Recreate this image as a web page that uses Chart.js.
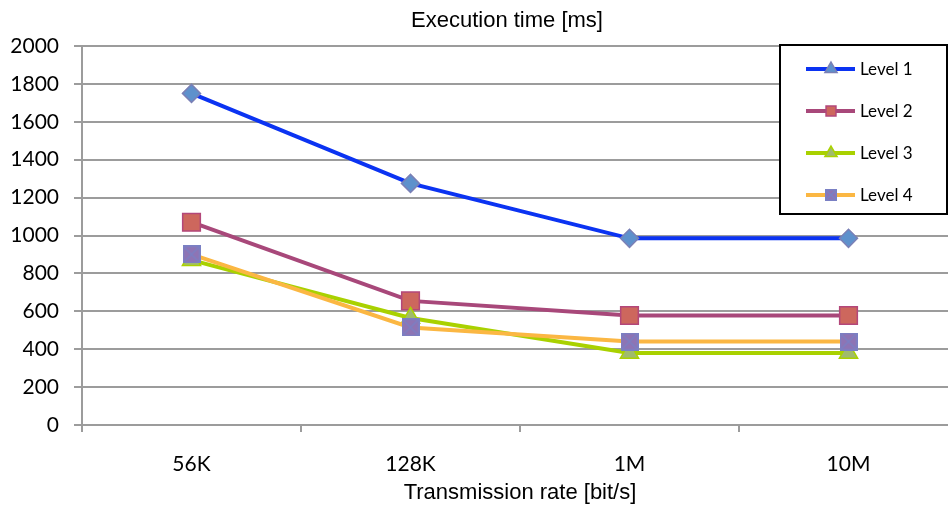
<!DOCTYPE html>
<html>
<head>
<meta charset="utf-8">
<script src="https://cdn.jsdelivr.net/npm/chart.js@4.4.1/dist/chart.umd.min.js"></script>
<style>
  html, body { margin: 0; padding: 0; background: #fff; overflow: hidden; }
  #wrap { width: 948px; height: 507px; overflow: hidden; }
</style>
</head>
<body>
<div id="wrap"><canvas id="chart" width="972" height="507"></canvas></div>
<script>
// values
var rates = ["56K", "128K", "1M", "10M"];
var level1 = [1750, 1275, 985, 985];
var level2 = [1070, 655, 578, 578];
var level3 = [870, 565, 380, 380];
var level4 = [900, 515, 440, 440];
var yTicks = [0, 200, 400, 600, 800, 1000, 1200, 1400, 1600, 1800, 2000];

// square with a cross, used as the Level 4 marker
function crossBox(size) {
  var c = document.createElement("canvas");
  c.width = size; c.height = size;
  var g = c.getContext("2d");
  g.fillStyle = "#8E74B4";
  g.fillRect(0, 0, size, size);
  g.strokeStyle = "#7A80C4";
  g.lineWidth = 1.5;
  g.strokeRect(0.75, 0.75, size - 1.5, size - 1.5);
  g.beginPath();
  g.moveTo(1, 1); g.lineTo(size - 1, size - 1);
  g.moveTo(size - 1, 1); g.lineTo(1, size - 1);
  g.stroke();
  return c;
}
var box18 = crossBox(18);
var box12 = crossBox(12);

var series = [
  {label: "Level 1", data: level1, line: "#0B33F2", fill: "#5E91CC", edge: "#7A80B6", style: "rectRot", r: 9, legendStyle: "triangle"},
  {label: "Level 2", data: level2, line: "#A8487A", fill: "#CD675D", edge: "#B3477A", style: "rect", r: 12.5, legendStyle: "rect"},
  {label: "Level 3", data: level3, line: "#A9D100", fill: "#A0BB6C", edge: "#AAD200", style: "triangle", r: 10.5, legendStyle: "triangle"},
  {label: "Level 4", data: level4, line: "#FBB743", fill: "#8E74B4", edge: "#7A80C4", style: box18, r: 9, legendStyle: box12}
];

var extras = {
  id: "extras",
  afterDraw: function(chart) {
    var ctx = chart.ctx;
    ctx.save();
    // title
    ctx.fillStyle = "#000";
    ctx.font = "22px 'Liberation Sans', Arial, sans-serif";
    ctx.textAlign = "center";
    ctx.textBaseline = "middle";
    ctx.fillText("Execution time [ms]", 507, 21);
    // legend box
    ctx.fillStyle = "#fff";
    ctx.fillRect(780, 45, 167, 169);
    ctx.strokeStyle = "#000";
    ctx.lineWidth = 2;
    ctx.strokeRect(780, 45, 167, 169);
    var rows = [69, 111, 153, 195];
    series.forEach(function(s, i) {
      var y = rows[i];
      ctx.strokeStyle = s.line;
      ctx.lineWidth = 4;
      ctx.beginPath();
      ctx.moveTo(806, y);
      ctx.lineTo(855, y);
      ctx.stroke();
      ctx.fillStyle = s.fill;
      ctx.strokeStyle = s.edge;
      ctx.lineWidth = 1.5;
      Chart.helpers.drawPoint(ctx, {
        pointStyle: s.legendStyle, radius: 7, rotation: 0, borderWidth: 1.5
      }, 831, y);
      ctx.fillStyle = "#000";
      ctx.font = "17px Lato, sans-serif";
      ctx.textAlign = "left";
      ctx.textBaseline = "middle";
      ctx.fillText(s.label, 860, y + 1);
    });
    ctx.restore();
  }
};

new Chart(document.getElementById("chart"), {
  type: "line",
  data: {
    labels: rates,
    datasets: series.map(function(s, i) {
      return {
        label: s.label,
        data: s.data,
        order: 3 - i,
        borderColor: s.line,
        borderWidth: 4,
        tension: 0,
        pointStyle: s.style,
        pointRadius: s.r,
        pointHoverRadius: s.r,
        pointBackgroundColor: s.fill,
        pointBorderColor: s.edge,
        pointBorderWidth: 1.5
      };
    })
  },
  options: {
    responsive: false,
    animation: false,
    events: [],
    layout: {padding: {top: 46, right: 2, left: 0, bottom: 0}},
    plugins: {legend: {display: false}, title: {display: false}, tooltip: {enabled: false}},
    scales: {
      x: {
        offset: true,
        afterFit: function(scale) { scale.height = 82; },
        grid: {offset: true, drawOnChartArea: false, drawTicks: true, tickLength: 7, color: "#9c9c9c", lineWidth: 2},
        border: {display: true, color: "#9c9c9c", width: 2},
        ticks: {color: "#000", font: {family: "Lato", size: 21}, padding: 20, maxRotation: 0},
        title: {display: true, text: "Transmission rate [bit/s]", color: "#000",
                font: {family: "'Liberation Sans', Arial, sans-serif", size: 22}, padding: {top: 0, bottom: 1}}
      },
      y: {
        min: 0,
        max: 2000,
        afterFit: function(scale) { scale.width = 82; },
        afterBuildTicks: function(scale) { scale.ticks = yTicks.map(function(v) { return {value: v}; }); },
        grid: {color: "#9c9c9c", lineWidth: 2, tickLength: 8, drawTicks: true},
        border: {display: true, color: "#9c9c9c", width: 2},
        ticks: {color: "#000", font: {family: "Lato", size: 21}, padding: 15,
                callback: function(v) { return String(v); }}
      }
    }
  },
  plugins: [extras]
});
</script>
</body>
</html>
